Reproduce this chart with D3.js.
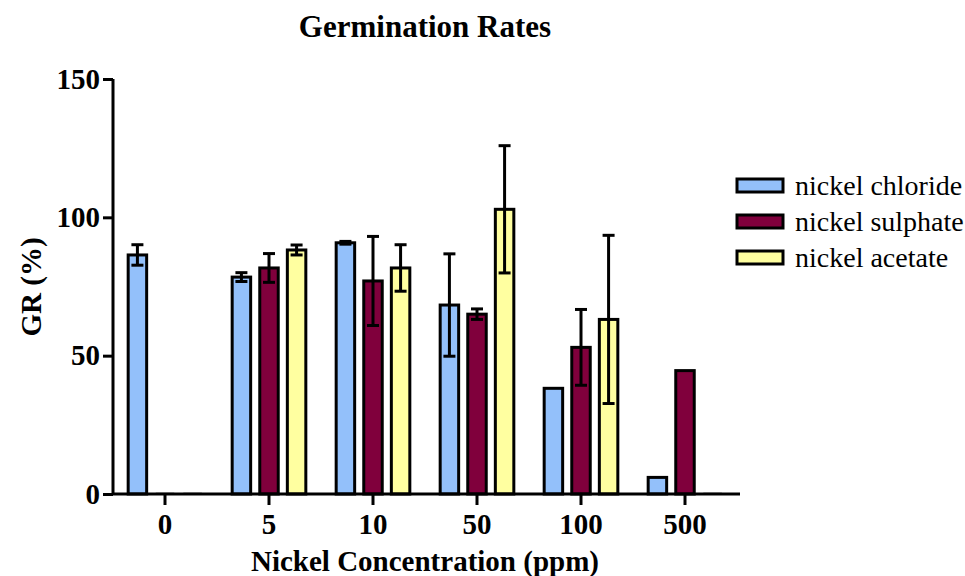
<!DOCTYPE html>
<html><head><meta charset="utf-8">
<script src="https://cdn.jsdelivr.net/npm/d3@7"></script>
<style>body{margin:0;background:#fff}svg{display:block}svg text{font-family:"Liberation Serif","Times New Roman",serif !important}</style>
</head><body><svg id="c" width="965" height="576"></svg>
<script>
const categories = ["0","5","10","50","100","500"];
const seriesNames = ["nickel chloride","nickel sulphate","nickel acetate"];
const chloride = [86.4, 78.4, 90.8, 68.3, 38.2, 6.0];
const sulphate = [0, 81.7, 77.0, 65.0, 53.0, 44.6];
const acetate = [0, 88.2, 81.7, 102.9, 63.1, 0];
const chlorideErr = [3.7, 1.6, 0.5, 18.5, 0, 0];
const sulphateErr = [0, 5.2, 16.1, 1.9, 13.7, 0];
const acetateErr = [0, 1.8, 8.4, 23.0, 30.4, 0];
const yTicks = [0, 50, 100, 150];
const colors = ["#93C0FA", "#80003C", "#FFFFA0"];

const values = [chloride, sulphate, acetate];
const errs = [chlorideErr, sulphateErr, acetateErr];
const FONT = "Liberation Serif";

const svg = d3.select("#c");
const x = d3.scaleBand().domain(categories).range([113, 737]).paddingInner(0).paddingOuter(0);
const x1 = d3.scaleBand().domain(seriesNames).range([0, x.bandwidth()]).paddingInner(0.33).paddingOuter(0.55);
const y = d3.scaleLinear().domain([0, 150]).range([494, 79]);

// bars
categories.forEach((c, i) => {
  seriesNames.forEach((s, j) => {
    const v = values[j][i];
    const bx = x(c) + x1(s);
    if (v === 0) {
      svg.append("line").attr("x1", bx).attr("x2", bx + x1.bandwidth())
        .attr("y1", y(0) - 1).attr("y2", y(0) - 1)
        .attr("stroke", "#c8c8c8").attr("stroke-width", 2);
      return;
    }
    svg.append("rect").attr("x", bx).attr("y", y(v)).attr("width", x1.bandwidth())
      .attr("height", y(0) - y(v)).attr("fill", colors[j]).attr("stroke", "#000").attr("stroke-width", 3);
  });
});
// error bars
categories.forEach((c, i) => {
  seriesNames.forEach((s, j) => {
    const v = values[j][i], e = errs[j][i];
    if (!e) return;
    const cx = x(c) + x1(s) + x1.bandwidth() / 2;
    const g = svg.append("g").attr("stroke", "#000").attr("stroke-width", 3);
    g.append("line").attr("x1", cx).attr("x2", cx).attr("y1", y(v + e)).attr("y2", y(v - e));
    g.append("line").attr("x1", cx - 6).attr("x2", cx + 6).attr("y1", y(v + e)).attr("y2", y(v + e));
    g.append("line").attr("x1", cx - 6).attr("x2", cx + 6).attr("y1", y(v - e)).attr("y2", y(v - e));
  });
});

// axes
const yAxis = d3.axisLeft(y).tickValues(yTicks).tickSize(10).tickPadding(3);
const ya = svg.append("g").attr("transform", "translate(113,0)").call(yAxis);
const xAxis = d3.axisBottom(x).tickSize(11).tickPadding(8);
const xa = svg.append("g").attr("transform", "translate(0,494)").call(xAxis);
[ya, xa].forEach(a => {
  a.attr("font-family", FONT);
  a.select(".domain").attr("stroke", "#000").attr("stroke-width", 3);
  a.selectAll(".tick line").attr("stroke", "#000").attr("stroke-width", 3);
  a.selectAll(".tick text").attr("fill", "#000").attr("font-family", FONT)
    .attr("font-weight", "bold").attr("font-size", 29);
});
ya.select(".domain").attr("d", "M0," + y(150) + "V" + y(0));
xa.select(".domain").attr("d", "M113,0H740");

// titles
svg.append("text").attr("x", 425).attr("y", 37).attr("text-anchor", "middle").attr("font-family", FONT)
  .attr("font-weight", "bold").attr("font-size", 31).text("Germination Rates");
svg.append("text").attr("x", 425).attr("y", 571).attr("text-anchor", "middle").attr("font-family", FONT)
  .attr("font-weight", "bold").attr("font-size", 29).text("Nickel Concentration (ppm)");
svg.append("text").attr("transform", "translate(41,287) rotate(-90)").attr("text-anchor", "middle").attr("font-family", FONT)
  .attr("font-weight", "bold").attr("font-size", 29).text("GR (%)");

// legend
const lg = svg.append("g");
seriesNames.forEach((s, j) => {
  const ly = 186 + j * 36;
  lg.append("rect").attr("x", 737).attr("y", ly - 7).attr("width", 46).attr("height", 13)
    .attr("fill", colors[j]).attr("stroke", "#000").attr("stroke-width", 3);
  lg.append("text").attr("x", 795).attr("y", ly + 9).attr("font-family", FONT).attr("font-size", 28).text(s);
});
</script></body></html>
